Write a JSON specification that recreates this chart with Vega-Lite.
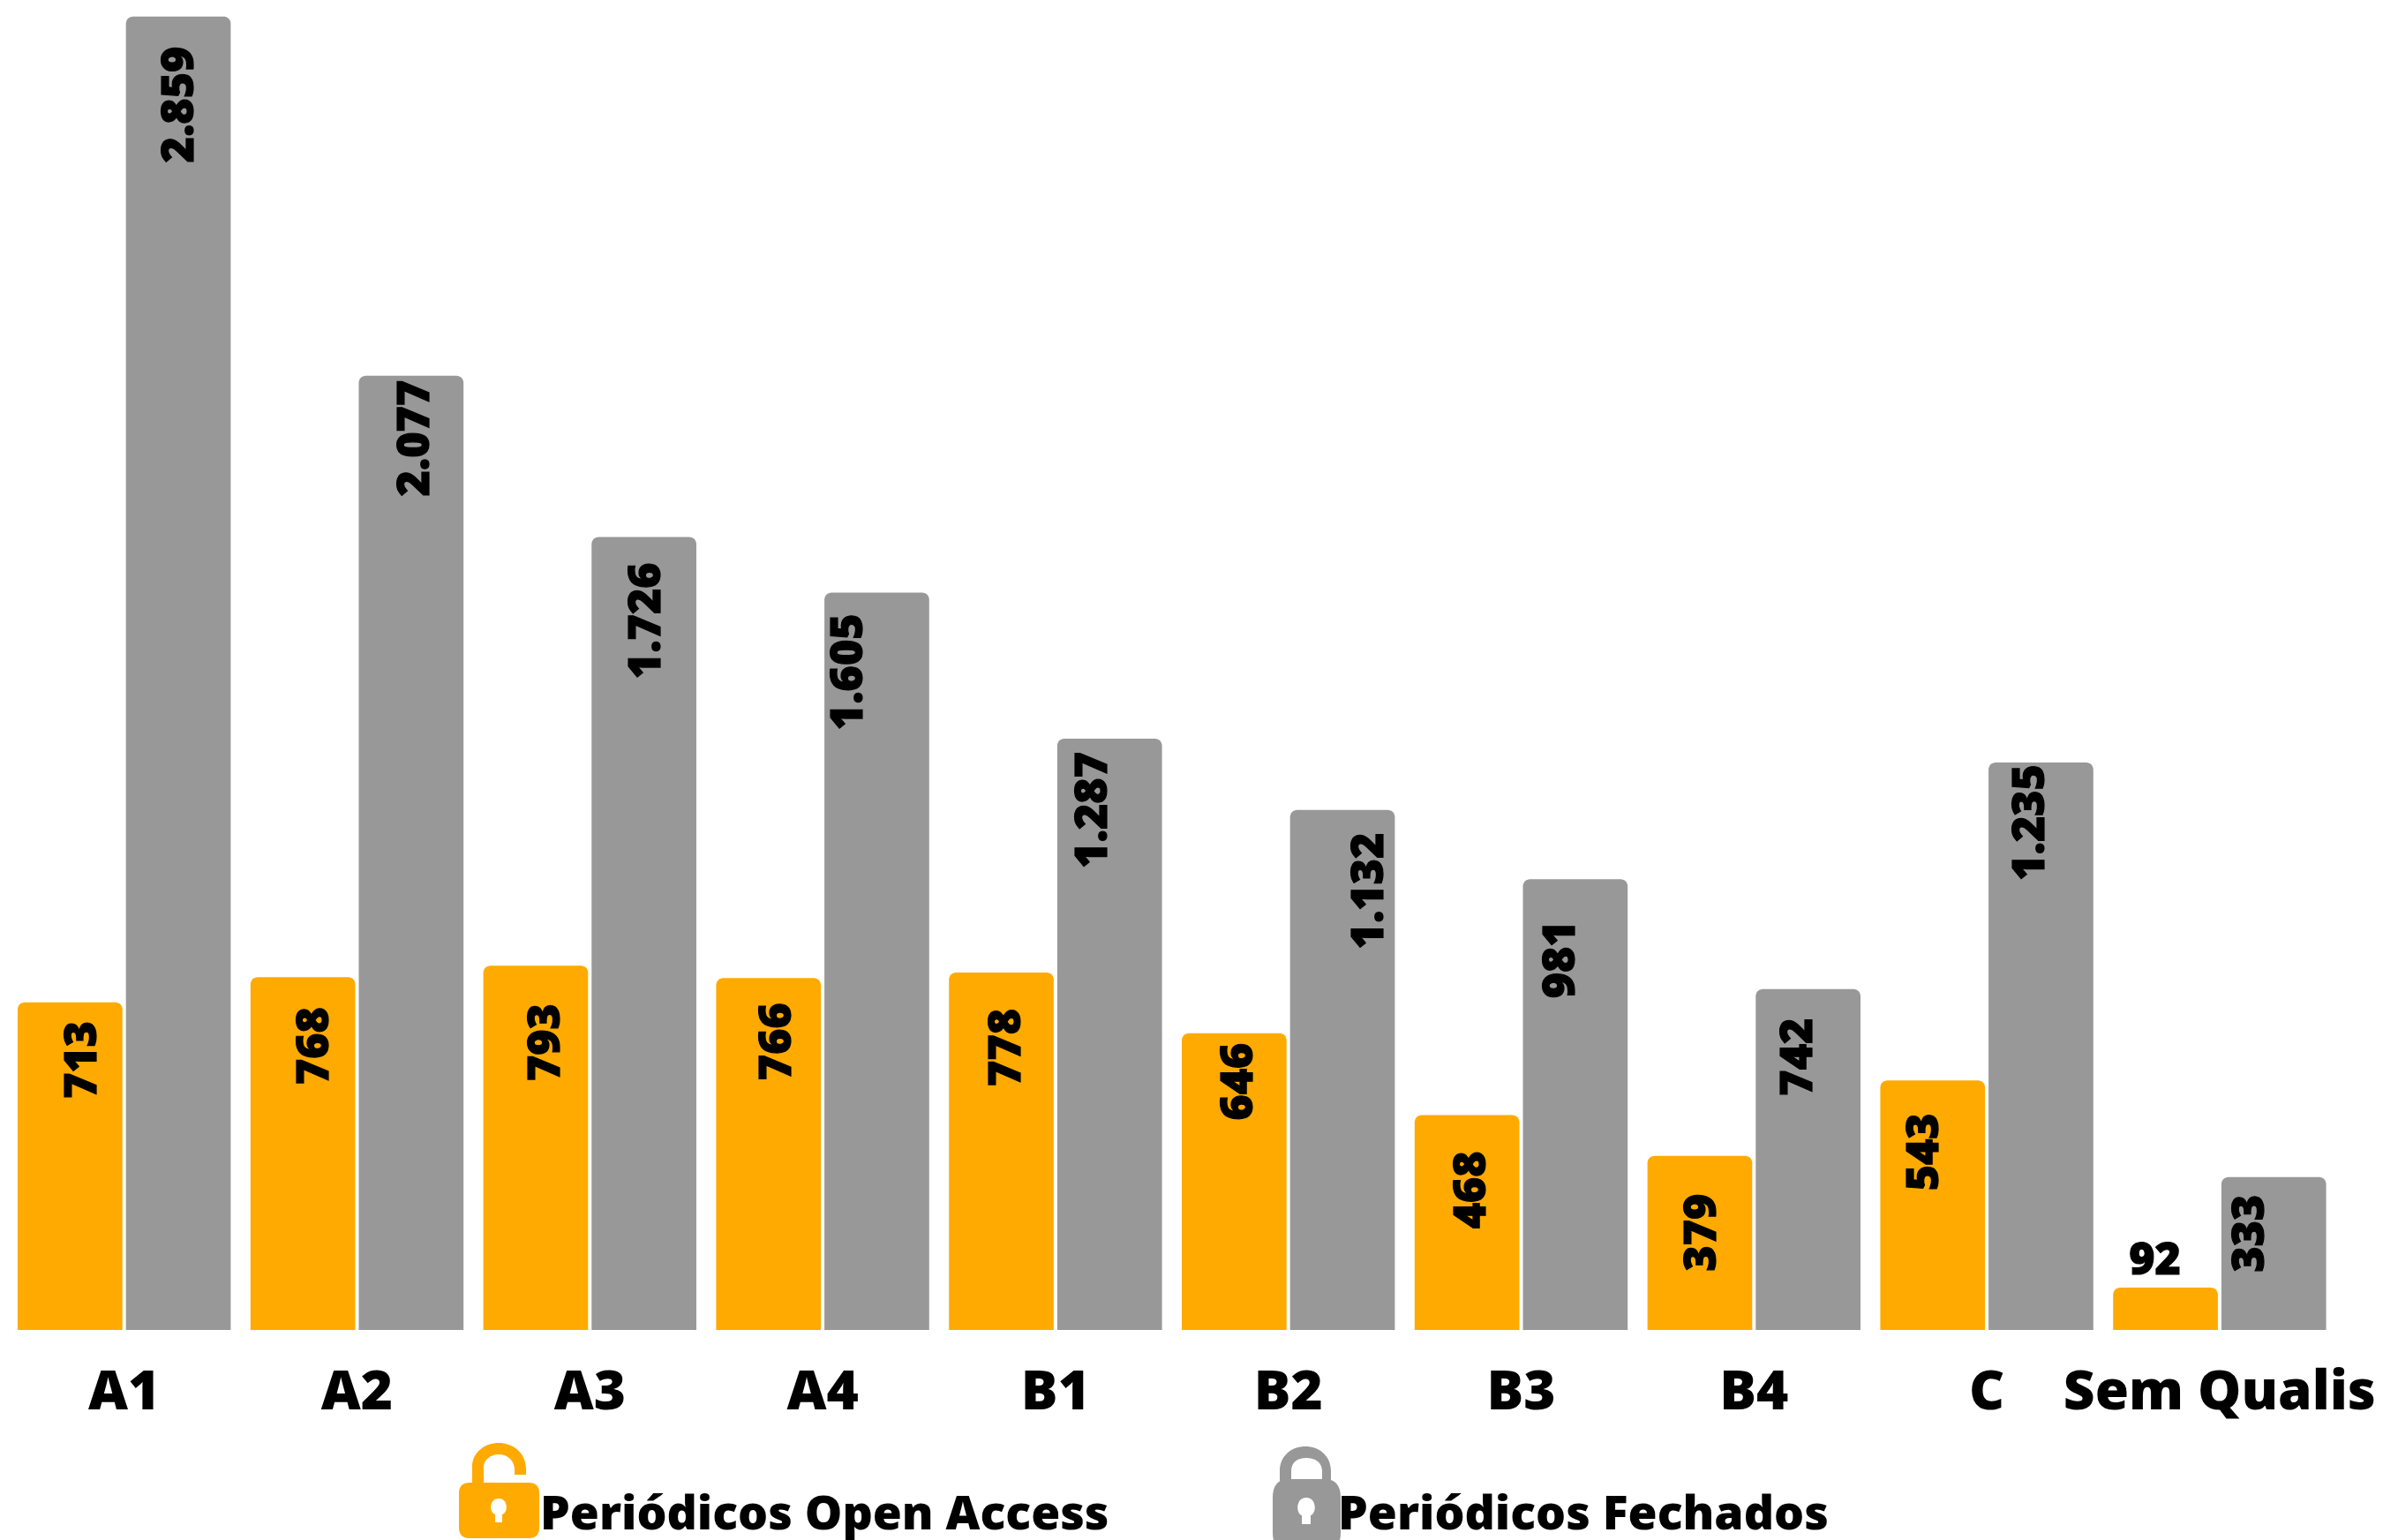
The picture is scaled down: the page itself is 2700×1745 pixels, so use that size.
{"$schema":"https://vega.github.io/schema/vega-lite/v6.json","width":2638,"height":1507,"autosize":{"type":"none"},"padding":{"left":8.8,"top":0,"right":53.2,"bottom":238},"background":"white","config":{"view":{"stroke":null},"locale":{"number":{"decimal":",","thousands":".","grouping":[3],"currency":["R$",""]}}},"data":{"values":[{"q":"A1","tipo":"Periódicos Open Access","n":713},{"q":"A1","tipo":"Periódicos Fechados","n":2859},{"q":"A2","tipo":"Periódicos Open Access","n":768},{"q":"A2","tipo":"Periódicos Fechados","n":2077},{"q":"A3","tipo":"Periódicos Open Access","n":793},{"q":"A3","tipo":"Periódicos Fechados","n":1726},{"q":"A4","tipo":"Periódicos Open Access","n":766},{"q":"A4","tipo":"Periódicos Fechados","n":1605},{"q":"B1","tipo":"Periódicos Open Access","n":778},{"q":"B1","tipo":"Periódicos Fechados","n":1287},{"q":"B2","tipo":"Periódicos Open Access","n":646},{"q":"B2","tipo":"Periódicos Fechados","n":1132},{"q":"B3","tipo":"Periódicos Open Access","n":468},{"q":"B3","tipo":"Periódicos Fechados","n":981},{"q":"B4","tipo":"Periódicos Open Access","n":379},{"q":"B4","tipo":"Periódicos Fechados","n":742},{"q":"C","tipo":"Periódicos Open Access","n":543},{"q":"C","tipo":"Periódicos Fechados","n":1235},{"q":"Sem Qualis","tipo":"Periódicos Open Access","n":92},{"q":"Sem Qualis","tipo":"Periódicos Fechados","n":333}]},"encoding":{"x":{"field":"q","type":"nominal","sort":null,"title":null,"scale":{"paddingInner":0.085,"paddingOuter":0.0425},"axis":{"ticks":false,"domain":false,"labelAngle":0,"labelFont":"Open Sans","labelFontWeight":800,"labelFontSize":62,"labelColor":"black","labelPadding":40,"labelBound":false,"labelOverlap":false,"labelLimit":0,"grid":false}},"xOffset":{"field":"tipo","type":"nominal","sort":null,"scale":{"domain":["Periódicos Open Access","Periódicos Fechados"],"paddingInner":0.0325,"paddingOuter":0}},"y":{"field":"n","type":"quantitative","stack":null,"title":null,"scale":{"domain":[0,2895],"nice":false},"axis":null}},"layer":[{"mark":{"type":"bar","cornerRadiusTopLeft":8,"cornerRadiusTopRight":8},"encoding":{"color":{"field":"tipo","type":"nominal","sort":null,"scale":{"domain":["Periódicos Open Access","Periódicos Fechados"],"range":["#FFAA00","#989898"]}}}},{"mark":{"type":"point","filled":true,"size":0,"opacity":1},"encoding":{"color":{"field":"tipo","type":"nominal","sort":null,"scale":{"domain":["Periódicos Open Access","Periódicos Fechados"],"range":["#FFAA00","#989898"]},"legend":{"orient":"none","legendX":456.2,"legendY":1617,"direction":"horizontal","columns":2,"title":null,"padding":0,"symbolSize":40000,"symbolStrokeWidth":0,"symbolOpacity":1,"labelOffset":-53,"labelFont":"Open Sans","labelFontWeight":800,"labelFontSize":53.5,"labelColor":"black","labelLimit":0,"columnPadding":112,"gridAlign":"each"}},"shape":{"field":"tipo","type":"nominal","sort":null,"scale":{"domain":["Periódicos Open Access","Periódicos Fechados"],"range":["M-1 -1L-1 -1ZM1 1L1 1ZM-.33 -.37H.34Q.46 -.37 .46 -.25V.14Q.46 .26 .34 .26H-.33Q-.45 .26 -.45 .14V-.25Q-.45 -.37 -.33 -.37ZM0 -.19C-.11 -.19 -.11 -.03 -.04 -.01V.08H.04V-.01C.11 -.03 .11 -.19 0 -.19ZM-.30 -.37V-.55C-.30 -.72 -.15 -.82 0 -.82C.15 -.82 .31 -.72 .31 -.52V-.46H.18V-.52C.18 -.62 .10 -.69 0 -.69C-.10 -.69 -.17 -.62 -.17 -.55V-.37Z","M-1 -1L-1 -1ZM1 1L1 1ZM-.09 -.41H.32Q.50 -.41 .50 -.20V.20Q.50 .40 .32 .40H-.09Q-.27 .40 -.27 .20V-.20Q-.27 -.41 -.09 -.41ZM.11 -.20C-.01 -.20 -.01 -.02 .06 0V.10H.16V0C.23 -.02 .23 -.20 .11 -.20ZM-.19 -.38V-.50C-.19 -.68 -.05 -.78 .10 -.78C.25 -.78 .39 -.68 .39 -.50V-.38H.29V-.50C.29 -.60 .21 -.65 .11 -.65C.01 -.65 -.06 -.60 -.06 -.50V-.38Z"]}}}},{"transform":[{"filter":"datum.q=='A1' && datum.n==713"}],"mark":{"type":"text","angle":270,"align":"right","baseline":"middle","font":"Open Sans","fontWeight":800,"fontSize":50,"color":"black","stroke":"black","strokeWidth":1.2,"dx":-21,"dy":15},"encoding":{"text":{"field":"n","type":"quantitative","format":",d"}}},{"transform":[{"filter":"datum.q=='A2' && datum.n==768"}],"mark":{"type":"text","angle":270,"align":"right","baseline":"middle","font":"Open Sans","fontWeight":800,"fontSize":50,"color":"black","stroke":"black","strokeWidth":1.2,"dx":-34,"dy":14},"encoding":{"text":{"field":"n","type":"quantitative","format":",d"}}},{"transform":[{"filter":"datum.q=='A3' && datum.n==793"}],"mark":{"type":"text","angle":270,"align":"right","baseline":"middle","font":"Open Sans","fontWeight":800,"fontSize":50,"color":"black","stroke":"black","strokeWidth":1.2,"dx":-43,"dy":12},"encoding":{"text":{"field":"n","type":"quantitative","format":",d"}}},{"transform":[{"filter":"datum.q=='A4' && datum.n==766"}],"mark":{"type":"text","angle":270,"align":"right","baseline":"middle","font":"Open Sans","fontWeight":800,"fontSize":50,"color":"black","stroke":"black","strokeWidth":1.2,"dx":-28,"dy":10},"encoding":{"text":{"field":"n","type":"quantitative","format":",d"}}},{"transform":[{"filter":"datum.q=='B1' && datum.n==778"}],"mark":{"type":"text","angle":270,"align":"right","baseline":"middle","font":"Open Sans","fontWeight":800,"fontSize":50,"color":"black","stroke":"black","strokeWidth":1.2,"dx":-41,"dy":6},"encoding":{"text":{"field":"n","type":"quantitative","format":",d"}}},{"transform":[{"filter":"datum.q=='B2' && datum.n==646"}],"mark":{"type":"text","angle":270,"align":"right","baseline":"middle","font":"Open Sans","fontWeight":800,"fontSize":50,"color":"black","stroke":"black","strokeWidth":1.2,"dx":-11,"dy":6},"encoding":{"text":{"field":"n","type":"quantitative","format":",d"}}},{"transform":[{"filter":"datum.q=='B3' && datum.n==468"}],"mark":{"type":"text","angle":270,"align":"right","baseline":"middle","font":"Open Sans","fontWeight":800,"fontSize":50,"color":"black","stroke":"black","strokeWidth":1.2,"dx":-41,"dy":6},"encoding":{"text":{"field":"n","type":"quantitative","format":",d"}}},{"transform":[{"filter":"datum.q=='B4' && datum.n==379"}],"mark":{"type":"text","angle":270,"align":"right","baseline":"middle","font":"Open Sans","fontWeight":800,"fontSize":50,"color":"black","stroke":"black","strokeWidth":1.2,"dx":-43,"dy":3},"encoding":{"text":{"field":"n","type":"quantitative","format":",d"}}},{"transform":[{"filter":"datum.q=='C' && datum.n==543"}],"mark":{"type":"text","angle":270,"align":"right","baseline":"middle","font":"Open Sans","fontWeight":800,"fontSize":50,"color":"black","stroke":"black","strokeWidth":1.2,"dx":-37,"dy":-9},"encoding":{"text":{"field":"n","type":"quantitative","format":",d"}}},{"transform":[{"filter":"datum.q=='Sem Qualis' && datum.n==92"}],"mark":{"type":"text","angle":0,"align":"center","baseline":"alphabetic","font":"Open Sans","fontWeight":800,"fontSize":50,"color":"black","stroke":"black","strokeWidth":1.2,"dx":-12,"dy":-15},"encoding":{"text":{"field":"n","type":"quantitative","format":",d"}}},{"transform":[{"filter":"datum.q=='A1' && datum.n==2859"}],"mark":{"type":"text","angle":270,"align":"right","baseline":"middle","font":"Open Sans","fontWeight":800,"fontSize":50,"color":"black","stroke":"black","strokeWidth":1.2,"dx":-34,"dy":2},"encoding":{"text":{"field":"n","type":"quantitative","format":",d"}}},{"transform":[{"filter":"datum.q=='A2' && datum.n==2077"}],"mark":{"type":"text","angle":270,"align":"right","baseline":"middle","font":"Open Sans","fontWeight":800,"fontSize":50,"color":"black","stroke":"black","strokeWidth":1.2,"dx":-5,"dy":5},"encoding":{"text":{"field":"n","type":"quantitative","format":",d"}}},{"transform":[{"filter":"datum.q=='A3' && datum.n==1726"}],"mark":{"type":"text","angle":270,"align":"right","baseline":"middle","font":"Open Sans","fontWeight":800,"fontSize":50,"color":"black","stroke":"black","strokeWidth":1.2,"dx":-29,"dy":3},"encoding":{"text":{"field":"n","type":"quantitative","format":",d"}}},{"transform":[{"filter":"datum.q=='A4' && datum.n==1605"}],"mark":{"type":"text","angle":270,"align":"right","baseline":"middle","font":"Open Sans","fontWeight":800,"fontSize":50,"color":"black","stroke":"black","strokeWidth":1.2,"dx":-24,"dy":-31},"encoding":{"text":{"field":"n","type":"quantitative","format":",d"}}},{"transform":[{"filter":"datum.q=='B1' && datum.n==1287"}],"mark":{"type":"text","angle":270,"align":"right","baseline":"middle","font":"Open Sans","fontWeight":800,"fontSize":50,"color":"black","stroke":"black","strokeWidth":1.2,"dx":-15,"dy":-18},"encoding":{"text":{"field":"n","type":"quantitative","format":",d"}}},{"transform":[{"filter":"datum.q=='B2' && datum.n==1132"}],"mark":{"type":"text","angle":270,"align":"right","baseline":"middle","font":"Open Sans","fontWeight":800,"fontSize":50,"color":"black","stroke":"black","strokeWidth":1.2,"dx":-26,"dy":31},"encoding":{"text":{"field":"n","type":"quantitative","format":",d"}}},{"transform":[{"filter":"datum.q=='B3' && datum.n==981"}],"mark":{"type":"text","angle":270,"align":"right","baseline":"middle","font":"Open Sans","fontWeight":800,"fontSize":50,"color":"black","stroke":"black","strokeWidth":1.2,"dx":-47,"dy":-16},"encoding":{"text":{"field":"n","type":"quantitative","format":",d"}}},{"transform":[{"filter":"datum.q=='B4' && datum.n==742"}],"mark":{"type":"text","angle":270,"align":"right","baseline":"middle","font":"Open Sans","fontWeight":800,"fontSize":50,"color":"black","stroke":"black","strokeWidth":1.2,"dx":-33,"dy":-11},"encoding":{"text":{"field":"n","type":"quantitative","format":",d"}}},{"transform":[{"filter":"datum.q=='C' && datum.n==1235"}],"mark":{"type":"text","angle":270,"align":"right","baseline":"middle","font":"Open Sans","fontWeight":800,"fontSize":50,"color":"black","stroke":"black","strokeWidth":1.2,"dx":-2,"dy":-11},"encoding":{"text":{"field":"n","type":"quantitative","format":",d"}}},{"transform":[{"filter":"datum.q=='Sem Qualis' && datum.n==333"}],"mark":{"type":"text","angle":270,"align":"right","baseline":"middle","font":"Open Sans","fontWeight":800,"fontSize":50,"color":"black","stroke":"black","strokeWidth":1.2,"dx":-20,"dy":-26},"encoding":{"text":{"field":"n","type":"quantitative","format":",d"}}}]}
